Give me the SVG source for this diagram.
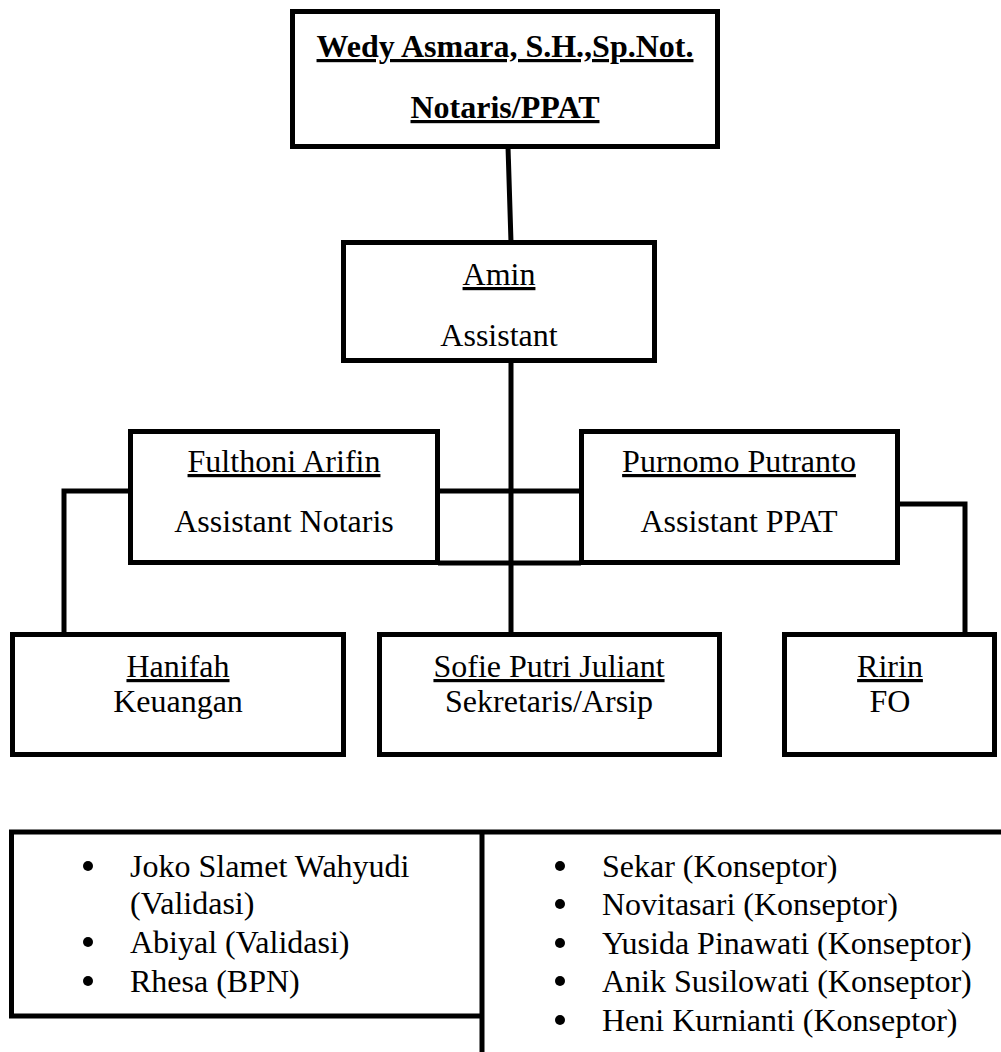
<svg xmlns="http://www.w3.org/2000/svg" width="1001" height="1052" viewBox="0 0 1001 1052">
<style>
.box{fill:#fff;stroke:#000;stroke-width:5}
.ln{stroke:#000;stroke-width:5;fill:none}
.t{font-family:"Liberation Serif","Times New Roman",serif;font-size:32px;fill:#000;text-anchor:middle}
.b{font-weight:bold}
.u{text-decoration:underline}
.l{font-family:"Liberation Serif","Times New Roman",serif;font-size:32px;fill:#000}
</style>
<rect width="1001" height="1052" fill="#fff"/>
<g id="connectors">
<line class="ln" x1="508" y1="147" x2="511" y2="242"/>
<line class="ln" x1="511" y1="361" x2="511" y2="634"/>
<polyline class="ln" points="64,634 64,491 130,491"/>
<line class="ln" x1="438" y1="491" x2="581" y2="491"/>
<line class="ln" x1="438" y1="563" x2="581" y2="563"/>
<polyline class="ln" points="898,504 965,504 965,634"/>
</g>
<g id="node-wedy">
<rect class="box" x="292.5" y="11.5" width="425" height="135"/>
<text class="t b u" x="505" y="57">Wedy Asmara, S.H.,Sp.Not.</text>
<text class="t b u" x="505" y="118">Notaris/PPAT</text>
</g>
<g id="node-amin">
<rect class="box" x="343.5" y="242.5" width="311" height="118"/>
<text class="t u" x="499" y="285">Amin</text>
<text class="t" x="499" y="346">Assistant</text>
</g>
<g id="node-fulthoni">
<rect class="box" x="130.5" y="431.5" width="307" height="131"/>
<text class="t u" x="284" y="472">Fulthoni Arifin</text>
<text class="t" x="284" y="532">Assistant Notaris</text>
</g>
<g id="node-purnomo">
<rect class="box" x="581.5" y="431.5" width="316" height="131"/>
<text class="t u" x="739" y="472">Purnomo Putranto</text>
<text class="t" x="739" y="532">Assistant PPAT</text>
</g>
<g id="node-hanifah">
<rect class="box" x="12.5" y="634.5" width="331" height="120"/>
<text class="t u" x="178" y="677">Hanifah</text>
<text class="t" x="178" y="712">Keuangan</text>
</g>
<g id="node-sofie">
<rect class="box" x="379.5" y="634.5" width="340" height="120"/>
<text class="t u" x="549" y="677">Sofie Putri Juliant</text>
<text class="t" x="549" y="712">Sekretaris/Arsip</text>
</g>
<g id="node-ririn">
<rect class="box" x="784.5" y="634.5" width="210" height="120"/>
<text class="t u" x="890" y="677">Ririn</text>
<text class="t" x="890" y="712">FO</text>
</g>
<g id="node-staff-left">
<polyline class="ln" points="1001,832 11.5,832 11.5,1016 482,1016"/>
<line class="ln" x1="482" y1="832" x2="482" y2="1052"/>
<circle cx="88" cy="866" r="5"/>
<circle cx="88" cy="942" r="5"/>
<circle cx="88" cy="981" r="5"/>
<text class="l" x="130" y="877">Joko Slamet Wahyudi</text>
<text class="l" x="130" y="914">(Validasi)</text>
<text class="l" x="130" y="953">Abiyal (Validasi)</text>
<text class="l" x="130" y="992">Rhesa (BPN)</text>
</g>
<g id="node-staff-right">
<circle cx="560" cy="866" r="5"/>
<circle cx="560" cy="904" r="5"/>
<circle cx="560" cy="943" r="5"/>
<circle cx="560" cy="981" r="5"/>
<circle cx="560" cy="1020" r="5"/>
<text class="l" x="602" y="877">Sekar (Konseptor)</text>
<text class="l" x="602" y="915">Novitasari (Konseptor)</text>
<text class="l" x="602" y="954">Yusida Pinawati (Konseptor)</text>
<text class="l" x="602" y="992">Anik Susilowati (Konseptor)</text>
<text class="l" x="602" y="1031">Heni Kurnianti (Konseptor)</text>
</g>
</svg>
